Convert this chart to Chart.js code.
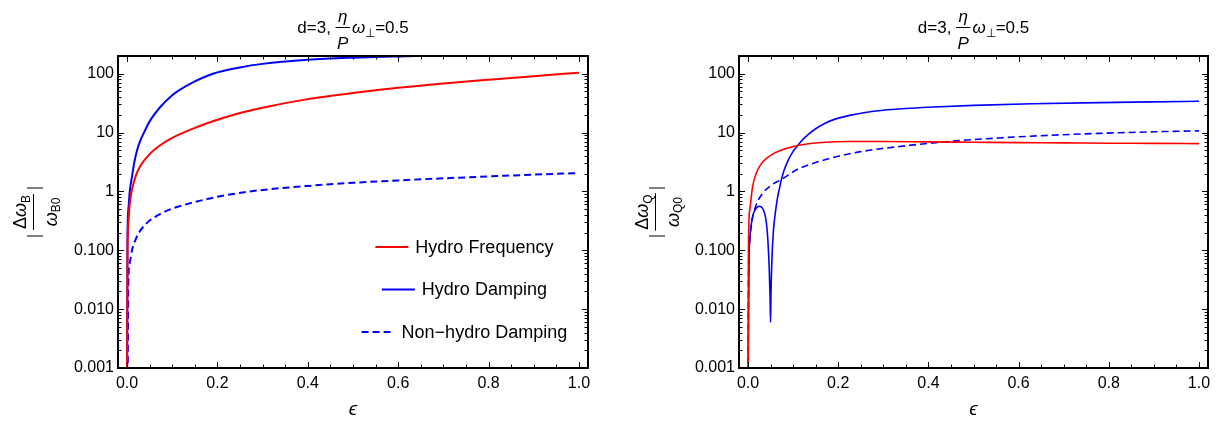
<!DOCTYPE html>
<html><head><meta charset="utf-8">
<script src="https://cdn.jsdelivr.net/npm/chart.js@4.4.1/dist/chart.umd.min.js"></script>
<style>
html,body{margin:0;padding:0;background:#fff;}
#wrap{position:relative;width:1222px;height:421px;overflow:hidden;}
canvas{position:absolute;top:0;}
#c1{left:0}
#c2{left:611px}
</style></head><body>
<div id="wrap"><canvas id="c1" width="611" height="421"></canvas><canvas id="c2" width="611" height="421"></canvas></div>
<script>
const FONT = "'Liberation Sans', Arial, Helvetica, sans-serif";

// ---- axis ticks ----
const yTickValues = [0.001, 0.01, 0.1, 1, 10, 100];
const yTickLabels = ['0.001', '0.010', '0.100', '1', '10', '100'];
const xTickValues = [0, 0.2, 0.4, 0.6, 0.8, 1.0];
const xTickLabels = ['0.0', '0.2', '0.4', '0.6', '0.8', '1.0'];
const seriesNames = ['Hydro Frequency', 'Hydro Damping', 'Non\u2212hydro Damping'];
const xAxisTitle = '\u03F5';

// ---- left panel (B) ----
const freqEpsL = [0.00005, 0.001, 0.003, 0.006, 0.01, 0.02, 0.03, 0.05, 0.075, 0.1, 0.15, 0.2, 0.25, 0.3, 0.4, 0.5, 0.6, 0.7, 0.8, 0.9, 1.0];
const freqValL = [0.0005, 0.1, 0.3, 0.62, 1.0, 1.9, 2.75, 4.3, 6.2, 8.1, 12, 16.5, 21.5, 26.5, 37, 47, 57.5, 68, 79, 91, 104];
const dampEpsL = [0.00005, 0.001, 0.003, 0.006, 0.011, 0.016, 0.0225, 0.03, 0.0375, 0.05, 0.075, 0.1, 0.113, 0.15, 0.19, 0.25, 0.3, 0.4, 0.5, 0.6, 0.7, 0.8, 0.9, 1.0];
const dampValL = [0.0005, 0.15, 0.5, 1.0, 1.8, 3.1, 5.1, 7.5, 10, 15.5, 28, 43, 51, 74, 100, 128, 147, 172, 187, 197, 205, 212, 218, 223];
const nonEpsL = [0.0015, 0.003, 0.006, 0.011, 0.02, 0.03, 0.04, 0.05, 0.075, 0.1, 0.15, 0.2, 0.26, 0.3, 0.4, 0.5, 0.6, 0.7, 0.8, 0.9, 1.0];
const nonValL = [0.0008, 0.03, 0.06, 0.1, 0.16, 0.22, 0.27, 0.32, 0.42, 0.51, 0.66, 0.81, 0.97, 1.06, 1.24, 1.4, 1.54, 1.67, 1.8, 1.93, 2.05];

// ---- right panel (Q) ----
const freqEpsR = [0.0003, 0.001, 0.004, 0.01, 0.02, 0.03, 0.04, 0.05, 0.07, 0.1, 0.13, 0.17, 0.22, 0.3, 0.4, 0.5, 0.6, 0.7, 0.8, 0.9, 1.0];
const freqValR = [0.0005, 0.12, 0.5, 1.2, 2.2, 3.0, 3.6, 4.1, 4.9, 5.8, 6.4, 6.85, 7.05, 7.05, 6.95, 6.85, 6.75, 6.68, 6.6, 6.55, 6.5];
const dampEpsR = [0.0003, 0.002, 0.004, 0.008, 0.012, 0.018, 0.025, 0.032, 0.037, 0.041, 0.044, 0.047, 0.049, 0.05, 0.051, 0.053, 0.056, 0.06, 0.065, 0.07, 0.074, 0.08, 0.09, 0.1, 0.107, 0.12, 0.13, 0.15, 0.17, 0.19, 0.225, 0.26, 0.3, 0.35, 0.4, 0.5, 0.63, 0.78, 0.9, 1.0];
const dampValR = [0.0005, 0.05, 0.15, 0.3, 0.42, 0.52, 0.56, 0.52, 0.42, 0.28, 0.15, 0.05, 0.015, 0.006, 0.02, 0.07, 0.2, 0.4, 0.75, 1.15, 1.6, 2.3, 3.5, 4.8, 5.6, 7.4, 8.8, 11.6, 14.3, 16.6, 19.6, 22, 24, 25.7, 27, 29, 30.8, 32.3, 33.2, 34];
const nonEpsR = [0.0003, 0.001, 0.003, 0.008, 0.017, 0.033, 0.05, 0.074, 0.111, 0.15, 0.2, 0.25, 0.336, 0.43, 0.556, 0.65, 0.78, 0.9, 1.0];
const nonValR = [0.0005, 0.03, 0.12, 0.29, 0.56, 0.94, 1.25, 1.6, 2.4, 3.1, 3.95, 4.75, 5.8, 6.9, 8.1, 8.85, 9.7, 10.3, 10.7];

const pts = (xs, ys) => xs.map((x, i) => ({x: x, y: ys[i]}));

function line(ctx, x1, y1, x2, y2) { ctx.beginPath(); ctx.moveTo(x1, y1); ctx.lineTo(x2, y2); ctx.stroke(); }

// frame with inward ticks on all four sides
const framePlugin = {
  id: 'frame',
  afterDraw(chart) {
    const {ctx, chartArea: a, scales: {x, y}} = chart;
    ctx.save();
    ctx.strokeStyle = '#000';
    ctx.lineWidth = 1;
    for (let k = 0; k <= 20; k++) {
      const v = k * 0.05;
      const px = Math.round(x.getPixelForValue(v)) + 0.5;
      const L = (k % 4 === 0) ? 6 : 3.5;
      line(ctx, px, a.bottom, px, a.bottom - L);
      line(ctx, px, a.top, px, a.top + L);
    }
    for (let d = -3; d <= 2; d++) {
      for (let m = 1; m <= 9; m++) {
        const v = m * Math.pow(10, d);
        if (v > y.max) continue;
        const py = Math.round(y.getPixelForValue(v)) + 0.5;
        const L = (m === 1) ? 6 : 3.5;
        line(ctx, a.left, py, a.left + L, py);
        line(ctx, a.right, py, a.right - L, py);
      }
    }
    ctx.lineWidth = 2;
    ctx.strokeRect(a.left, a.top, a.right - a.left, a.bottom - a.top);
    ctx.restore();
  }
};

// title "d=3, η/P ω⊥=0.5"
const titlePlugin = {
  id: 'mtitle',
  afterDraw(chart) {
    const {ctx, chartArea: a} = chart;
    const cx = (a.left + a.right) / 2;
    const fMain = '17px ' + FONT, fIt = 'italic 17px ' + FONT, fSub = '12px ' + FONT;
    ctx.save();
    ctx.fillStyle = '#000'; ctx.strokeStyle = '#000';
    ctx.textBaseline = 'alphabetic'; ctx.textAlign = 'left';
    ctx.font = fMain; const w1 = ctx.measureText('d=3, ').width;
    ctx.font = fIt; const wEta = ctx.measureText('\u03B7').width, wP = ctx.measureText('P').width, wOm = ctx.measureText('\u03C9').width;
    const wFrac = Math.max(wEta, wP) + 3;
    ctx.font = fSub; const wPerp = ctx.measureText('\u22A5').width;
    ctx.font = fMain; const w3 = ctx.measureText('=0.5').width;
    const total = w1 + wFrac + 2 + wOm + wPerp + w3;
    let xx = cx - total / 2;
    const base = 33;
    ctx.font = fMain; ctx.fillText('d=3, ', xx, base); xx += w1;
    ctx.font = fIt;
    ctx.fillText('\u03B7', xx + (wFrac - wEta) / 2, 22);
    ctx.fillText('P', xx + (wFrac - wP) / 2, 49);
    ctx.lineWidth = 1; line(ctx, xx, 27.5, xx + wFrac, 27.5);
    xx += wFrac + 2;
    ctx.fillText('\u03C9', xx, base); xx += wOm;
    ctx.font = fSub; ctx.fillText('\u22A5', xx, base + 4); xx += wPerp;
    ctx.font = fMain; ctx.fillText('=0.5', xx, base);
    ctx.restore();
  }
};

// rotated y label |Δω_X / ω_X0|
function makeYLabelPlugin(lineX, sub1, sub2) {
  return {
    id: 'ylab',
    afterDraw(chart) {
      const ctx = chart.ctx;
      const cy = 212;
      ctx.save();
      ctx.translate(lineX, cy); ctx.rotate(-Math.PI / 2);
      ctx.fillStyle = '#000'; ctx.strokeStyle = '#000';
      ctx.textBaseline = 'alphabetic'; ctx.textAlign = 'left';
      const fBig = '18px ' + FONT, fBigIt = 'italic 18px ' + FONT, fSub = '12px ' + FONT;
      ctx.font = fBig; const wD = ctx.measureText('\u0394').width;
      ctx.font = fBigIt; const wO = ctx.measureText('\u03C9').width;
      ctx.font = fSub; const wS1 = ctx.measureText(sub1).width, wS2 = ctx.measureText(sub2).width;
      const wNum = wD + wO + wS1;
      let u = -wNum / 2;
      ctx.font = fBig; ctx.fillText('\u0394', u, -7); u += wD;
      ctx.font = fBigIt; ctx.fillText('\u03C9', u, -7); u += wO;
      ctx.font = fSub; ctx.fillText(sub1, u, -3);
      const wDen = wO + wS2;
      u = -wDen / 2;
      ctx.font = fBigIt; ctx.fillText('\u03C9', u, 24); u += wO;
      ctx.font = fSub; ctx.fillText(sub2, u, 27);
      const half = Math.max(wNum, wDen) / 2 + 1;
      ctx.lineWidth = 1;
      line(ctx, -half, 0.5, half, 0.5);
      line(ctx, -24, -6, -24, 10);
      line(ctx, 24, -6, 24, 10);
      ctx.restore();
    }
  };
}

// in-plot legend (left panel)
const legendPlugin = {
  id: 'ilegend',
  afterDraw(chart, args, opts) {
    if (!opts || !opts.show) return;
    const {ctx, chartArea: a} = chart;
    const cx = a.left + opts.cxFrac * (a.right - a.left);
    ctx.save();
    ctx.font = '18px ' + FONT; ctx.textBaseline = 'middle'; ctx.textAlign = 'left'; ctx.fillStyle = '#000';
    chart.data.datasets.forEach((ds, i) => {
      const yy = opts.y0 + i * opts.dy;
      const tw = ctx.measureText(ds.label).width;
      const total = 33 + 7 + tw;
      const x0 = cx - total / 2;
      ctx.strokeStyle = ds.borderColor; ctx.lineWidth = 2;
      ctx.setLineDash(ds.borderDash || []);
      line(ctx, x0, yy, x0 + 33, yy);
      ctx.setLineDash([]);
      ctx.fillText(ds.label, x0 + 40, yy + 1);
    });
    ctx.restore();
  }
};

function options(padRight, yWidth, showLegend) {
  return {
    responsive: false, animation: false, devicePixelRatio: 1,
    layout: {padding: {top: 56, right: padRight, bottom: 0, left: 0}},
    elements: {point: {radius: 0}, line: {cubicInterpolationMode: 'monotone'}},
    plugins: {
      legend: {display: false}, tooltip: {enabled: false}, title: {display: false},
      ilegend: {show: showLegend, cxFrac: 0.737, y0: 247, dy: 42.5}
    },
    scales: {
      x: {
        type: 'linear', min: -0.02, max: 1.02,
        grid: {display: false, drawTicks: false}, border: {display: false},
        afterBuildTicks: s => { s.ticks = xTickValues.map(v => ({value: v})); },
        afterFit: s => { s.height = 53; },
        ticks: {autoSkip: false, maxRotation: 0, padding: 6, color: '#000', font: {family: FONT, size: 16},
                callback: (v, i) => xTickLabels[i]},
        title: {display: true, text: xAxisTitle, color: '#000',
                font: {family: FONT, size: 19, style: 'italic', lineHeight: 1.2}, padding: {top: 0, bottom: 0}}
      },
      y: {
        type: 'logarithmic', min: 0.001, max: 200,
        grid: {display: false, drawTicks: false}, border: {display: false},
        afterBuildTicks: s => { s.ticks = yTickValues.map(v => ({value: v})); },
        afterFit: s => { s.width = yWidth; },
        ticks: {autoSkip: false, padding: 4, color: '#000', font: {family: FONT, size: 16},
                callback: (v, i) => yTickLabels[i]}
      }
    }
  };
}

function datasets(fx, fy, dx, dy, nx, ny, lw) {
  return [
    {label: seriesNames[0], data: pts(fx, fy), borderColor: '#ff0000', borderWidth: lw, fill: false, clip: 0},
    {label: seriesNames[1], data: pts(dx, dy), borderColor: '#0000ff', borderWidth: lw, fill: false, clip: 0},
    {label: seriesNames[2], data: pts(nx, ny), borderColor: '#0000ff', borderWidth: lw, borderDash: [7, 4], fill: false, clip: 0}
  ];
}

new Chart(document.getElementById('c1'), {
  type: 'line',
  data: {datasets: datasets(freqEpsL, freqValL, dampEpsL, dampValL, nonEpsL, nonValL, 2)},
  options: options(23, 118, true),
  plugins: [framePlugin, titlePlugin, makeYLabelPlugin(33, 'B', 'B0'), legendPlugin]
});
new Chart(document.getElementById('c2'), {
  type: 'line',
  data: {datasets: datasets(freqEpsR, freqValR, dampEpsR, dampValR, nonEpsR, nonValR, 1.6)},
  options: options(14, 128, false),
  plugins: [framePlugin, titlePlugin, makeYLabelPlugin(44, 'Q', 'Q0'), legendPlugin]
});
</script>
</body></html>
